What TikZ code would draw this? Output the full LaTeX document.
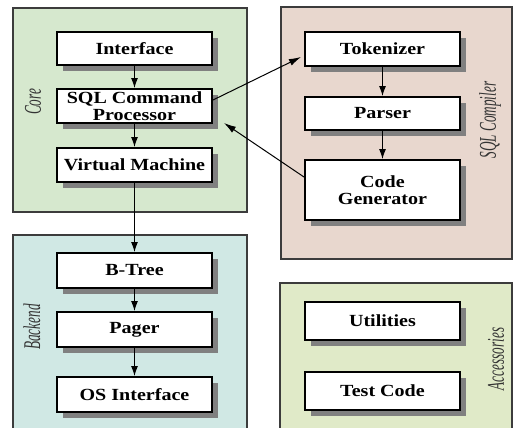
\documentclass[tikz,border=0pt]{standalone}
\usepackage{fontspec}
\setmainfont{Liberation Serif}
\newfontfamily\modfont[FakeStretch=1.18]{Liberation Serif}
\newfontfamily\tagfont[FakeStretch=0.55]{Liberation Serif}
\usetikzlibrary{arrows.meta,positioning,shadows,calc}
\definecolor{corefill}{RGB}{214,232,206}
\definecolor{compfill}{RGB}{232,215,206}
\definecolor{backfill}{RGB}{208,232,228}
\definecolor{accfill}{RGB}{224,234,200}
\definecolor{edgegray}{RGB}{60,60,60}

\begin{document}
\begin{tikzpicture}[
    x=0.5pt, y=-0.5pt,
    region/.style={draw=edgegray, line width=1pt, fill=#1},
    module/.style={rectangle, draw=black, line width=1pt, fill=white, minimum width=77.5pt, minimum height=#1, inner sep=0pt, align=center, font=\modfont\bfseries\fontsize{8.5}{8.5}\selectfont, drop shadow={shadow xshift=3pt, shadow yshift=-3pt, fill=black!50, opacity=1}},
    module/.default=17pt,
    tag/.style={font=\tagfont\itshape\fontsize{12}{13}\selectfont, text=black!80, rotate=90, inner sep=0pt},
    arrow/.style={-{Latex[length=5pt,width=3.5pt]}, line width=0.5pt},
    link/.style={-{Latex[length=6pt,width=3.5pt]}, line width=0.5pt}
]
\useasboundingbox (0,0) rectangle (519,428);
\clip (0,0) rectangle (519,428);

% Four groups
\draw[region=corefill] (13,8) rectangle (247,212);
\draw[region=compfill] (281,7) rectangle (512,259);
\draw[region=backfill] (13,235) rectangle (247,440);
\draw[region=accfill] (280,283) rectangle (512,440);

\node[tag] (core) at (33,102) {Core};
\node[tag] (compiler) at (490,120) {SQL Compiler};
\node[tag] (backend) at (32,327) {Backend};
\node[tag] (accessories) at (496,359) {Accessories};

% Core
\node[module=16.5pt] (interface) at (134.5,48.5) {Interface};
\node[module] (sqlproc) at (134.5,106) {SQL Command\\Processor};
\node[module] (vm) at (134.5,165) {Virtual Machine};

% SQL compiler
\node[module] (tokenizer) at (382.5,49) {Tokenizer};
\node[module=16.5pt] (parser) at (382.5,113.5) {Parser};
\node[module=30pt] (codegen) at (382.5,190) {Code\\Generator};

% Backend
\node[module=17.5pt] (btree) at (134.5,270.5) {B-Tree};
\node[module=17.5pt] (pager) at (134.5,329.5) {Pager};
\node[module=17.5pt] (osif) at (134.5,394.5) {OS Interface};

% Accessories
\node[module=19pt] (utilities) at (382.5,321) {Utilities};
\node[module=19pt] (testcode) at (382.5,391) {Test Code};

% Arrows down the stacks
\draw[arrow] (interface.south) -- (sqlproc.north);
\draw[arrow] (sqlproc.south) -- (vm.north);
\draw[arrow] (vm.south) -- (btree.north);
\draw[arrow] (btree.south) -- (pager.north);
\draw[arrow] (pager.south) -- (osif.north);
\draw[arrow] (tokenizer.south) -- (parser.north);
\draw[arrow] (parser.south) -- (codegen.north);

% Links to and from the compiler
\draw[link] ($(sqlproc.east)+(0,-6)$) -- ($(tokenizer.west)+(-3,8)$);
\draw[link] ($(codegen.west)+(0,-13)$) -- ($(sqlproc.south east)+(11,-1)$);

\end{tikzpicture}
\end{document}
